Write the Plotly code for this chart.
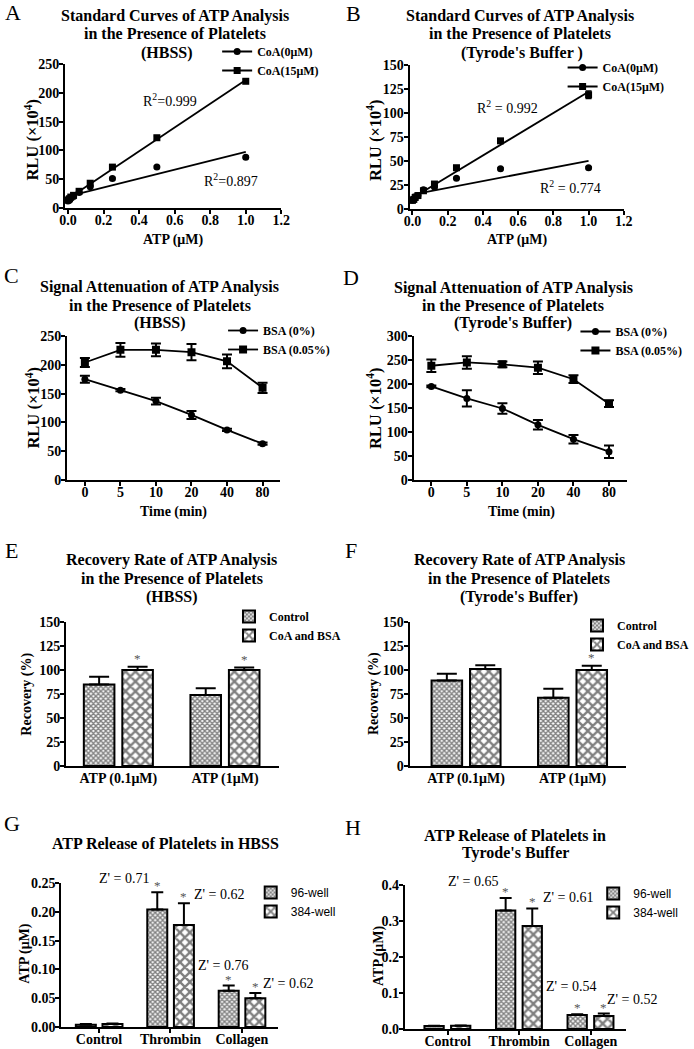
import numpy as np
import plotly.graph_objects as go

W, H = 694, 1049

# ---------------- data ----------------
atp_conc = [0, 0.0078, 0.0156, 0.03125, 0.0625, 0.125, 0.25, 0.5, 1.0]
a_coa0 = [12, 14, 17, 20, 27, 37, 51, 71, 88]
a_coa0_err = [1, 1, 1, 1, 1, 1, 2, 2, 2]
a_coa15 = [14, 16, 19, 22, 29, 43, 71, 122, 220]
a_coa15_err = [1, 1, 1, 1, 2, 2, 3, 3, 3]
b_coa0 = [9, 10, 12, 14, 20, 23, 32, 42, 43]
b_coa0_err = [1, 1, 1, 1, 1, 1, 1, 1, 1]
b_coa15 = [9, 10, 12, 14, 19, 26, 43, 71, 119]
b_coa15_err = [1, 1, 1, 1, 1, 2, 2, 2, 4]
r2_labels_a = ["R<sup>2</sup>=0.897", "R<sup>2</sup>=0.999"]
r2_labels_b = ["R<sup>2</sup> = 0.774", "R<sup>2</sup> = 0.992"]

time_labels = ["0", "5", "10", "20", "40", "80"]
c_bsa0 = [175, 156, 137, 113, 87, 63]
c_bsa0_err = [6, 2, 6, 7, 2, 2]
c_bsa005 = [204, 226, 226, 222, 206, 160]
c_bsa005_err = [8, 12, 11, 14, 12, 9]
d_bsa0 = [195, 170, 149, 115, 85, 59]
d_bsa0_err = [2, 17, 11, 10, 9, 13]
d_bsa005 = [238, 245, 241, 234, 210, 159]
d_bsa005_err = [13, 13, 6, 13, 8, 7]

rec_groups = ["ATP (0.1\u03bcM)", "ATP (1\u03bcM)"]
e_control = [85, 74]
e_control_err = [8, 7]
e_coabsa = [100, 100]
e_coabsa_err = [3.5, 2.5]
e_stars_control = [False, False]
e_stars_coabsa = [True, True]
f_control = [89, 71]
f_control_err = [7, 9.5]
f_coabsa = [101, 100]
f_coabsa_err = [4, 4.5]
f_stars_control = [False, False]
f_stars_coabsa = [False, True]

rel_groups = ["Control", "Thrombin", "Collagen"]
g_96 = [0.004, 0.204, 0.063]
g_96_err = [0.001, 0.030, 0.009]
g_384 = [0.005, 0.177, 0.050]
g_384_err = [0.001, 0.038, 0.009]
g_stars = [False, True, True]
g_zlabels = ["Z' = 0.71", "Z' = 0.62", "Z' = 0.76", "Z' = 0.62"]
h_96 = [0.008, 0.329, 0.039]
h_96_err = [0.001, 0.035, 0.002]
h_384 = [0.009, 0.286, 0.036]
h_384_err = [0.001, 0.049, 0.007]
h_stars = [False, True, True]
h_zlabels = ["Z' = 0.65", "Z' = 0.61", "Z' = 0.54", "Z' = 0.52"]

# ---------------- helpers ----------------
SERIF = "Liberation Serif, Times New Roman, serif"
SANS = "Liberation Sans, Arial, sans-serif"


def px(x):
    return x / W


def py(y):
    return 1 - y / H


fig = go.Figure()
annotations = []


def add_text(text, x, y, size=14, bold=False, family=SERIF, color="black",
             xanchor="center", yanchor="middle", angle=0):
    annotations.append(dict(text=text, x=px(x), y=py(y), xref="paper", yref="paper",
                            showarrow=False, xanchor=xanchor, yanchor=yanchor,
                            textangle=angle,
                            font=dict(family=family, size=size, color=color,
                                      weight="bold" if bold else "normal")))


axis_common = dict(showline=True, linecolor="black", linewidth=2, ticks="outside",
                   ticklen=4, tickwidth=2, tickcolor="black", showgrid=False,
                   zeroline=False, automargin=False,
                   tickfont=dict(family=SERIF, size=14, color="black", weight="bold"))

layout_axes = {}


def set_axes(i, xdom_px, ydom_px, xrange, yrange, xextra=None, yextra=None):
    xk = "xaxis" if i == 1 else f"xaxis{i}"
    yk = "yaxis" if i == 1 else f"yaxis{i}"
    xa = dict(axis_common)
    xa.update(domain=[px(xdom_px[0]), px(xdom_px[1])], range=xrange,
              anchor=f"y{'' if i == 1 else i}", ticklabelstandoff=-6)
    ya = dict(axis_common)
    ya.update(domain=[py(ydom_px[1]), py(ydom_px[0])], range=yrange,
              anchor=f"x{'' if i == 1 else i}", ticklabelstandoff=-3)
    if xextra:
        xa.update(xextra)
    if yextra:
        ya.update(yextra)
    layout_axes[xk] = xa
    layout_axes[yk] = ya


legend_font = dict(family=SERIF, size=12, color="black", weight="bold")
legends = {}


def make_legend(key, x_px, y_px, font=legend_font):
    legends[key] = dict(x=px(x_px), y=py(y_px), xanchor="left", yanchor="top",
                        bgcolor="rgba(0,0,0,0)", font=font, tracegroupgap=0)


# ---------------- A & B : standard curves ----------------
def std_curve(i, yv0, e0, yv15, e15, legkey, r2txt, r2pos):
    xa = f"x{'' if i == 1 else i}"
    ya = f"y{'' if i == 1 else i}"
    for yv, ee, sym, lab, rpos, rt in [(yv0, e0, "circle", "CoA(0\u03bcM)", r2pos[0], r2txt[0]),
                                       (yv15, e15, "square", "CoA(15\u03bcM)", r2pos[1], r2txt[1])]:
        fig.add_trace(go.Scatter(x=atp_conc, y=yv, mode="markers", xaxis=xa, yaxis=ya,
                                 marker=dict(symbol=sym, size=7, color="black"),
                                 error_y=dict(type="data", array=ee, color="black", thickness=1.5, width=3),
                                 showlegend=False, cliponaxis=False))
        slope, icpt = np.polyfit(atp_conc, yv, 1)
        xs = np.array([min(atp_conc), max(atp_conc)])
        fig.add_trace(go.Scatter(x=xs, y=icpt + slope * xs, mode="lines", xaxis=xa, yaxis=ya,
                                 line=dict(color="black", width=1.8), showlegend=False))
        fig.add_trace(go.Scatter(x=[None], y=[None], mode="lines+markers", xaxis=xa, yaxis=ya,
                                 marker=dict(symbol=sym, size=7, color="black"),
                                 line=dict(color="black", width=2), name=lab, legend=legkey))
        add_text(rt, rpos[0], rpos[1], size=14)


set_axes(1, (66, 285), (64, 208), [-0.016, 1.2], [0, 250],
         xextra=dict(tickvals=[0, 0.2, 0.4, 0.6, 0.8, 1.0, 1.2], tickformat=".1f"),
         yextra=dict(tickvals=[0, 50, 100, 150, 200, 250]))
std_curve(1, a_coa0, a_coa0_err, a_coa15, a_coa15_err, "legend", r2_labels_a,
          [(234, 180), (172, 100)])
make_legend("legend", 220, 37)

set_axes(2, (415, 632), (65, 209), [-0.016, 1.2], [0, 150],
         xextra=dict(tickvals=[0, 0.2, 0.4, 0.6, 0.8, 1.0, 1.2], tickformat=".1f"),
         yextra=dict(tickvals=[0, 25, 50, 75, 100, 125, 150]))
std_curve(2, b_coa0, b_coa0_err, b_coa15, b_coa15_err, "legend2", r2_labels_b,
          [(578, 187), (514, 107)])
make_legend("legend2", 570, 53)


# ---------------- C & D : signal attenuation ----------------
def atten(i, y0, e0, y5, e5, legkey):
    xa = f"x{'' if i == 1 else i}"
    ya = f"y{'' if i == 1 else i}"
    xi = list(range(len(time_labels)))
    for yv, ee, sym, lab, sz in [(y0, e0, "circle", "BSA (0%)", 7), (y5, e5, "square", "BSA (0.05%)", 8)]:
        fig.add_trace(go.Scatter(x=xi, y=yv, mode="lines+markers", xaxis=xa, yaxis=ya,
                                 marker=dict(symbol=sym, size=sz, color="black"),
                                 line=dict(color="black", width=1.8),
                                 error_y=dict(type="data", array=ee, color="black", thickness=2, width=5),
                                 name=lab, legend=legkey))


set_axes(3, (68, 284), (336, 480), [-0.5, 5.5], [0, 250],
         xextra=dict(tickvals=list(range(6)), ticktext=time_labels),
         yextra=dict(tickvals=[0, 50, 100, 150, 200, 250]))
atten(3, c_bsa0, c_bsa0_err, c_bsa005, c_bsa005_err, "legend3")
make_legend("legend3", 226, 316)

set_axes(4, (419, 635), (336, 480), [-0.5, 5.5], [0, 300],
         xextra=dict(tickvals=list(range(6)), ticktext=time_labels),
         yextra=dict(tickvals=[0, 50, 100, 150, 200, 250, 300]))
atten(4, d_bsa0, d_bsa0_err, d_bsa005, d_bsa005_err, "legend4")
make_legend("legend4", 583, 317)

# ---------------- bar helpers ----------------
PAT_A = dict(shape="x", size=3.5, solidity=0.65, fgcolor="black", bgcolor="white")
PAT_B = dict(shape="x", size=7, solidity=0.55, fgcolor="black", bgcolor="white")


def bars(i, cats, series, width, offsets, capw, legkey, star_y_shift):
    xa = f"x{'' if i == 1 else i}"
    ya = f"y{'' if i == 1 else i}"
    xi = list(range(len(cats)))
    for (vals, errs, stars, name, pat), off in zip(series, offsets):
        fig.add_trace(go.Bar(x=xi, y=vals, width=width, offset=off, xaxis=xa, yaxis=ya,
                             marker=dict(color="white", pattern=pat,
                                         line=dict(color="black", width=2)),
                             error_y=dict(type="data", array=errs, arrayminus=[0] * len(errs),
                                          symmetric=False, color="black", thickness=2, width=capw),
                             name=name, legend=legkey))
        for k, s in enumerate(stars):
            if s:
                annotations.append(dict(text="*", x=k + off + width / 2, y=vals[k] + errs[k],
                                        xref=xa, yref=ya, showarrow=False, yanchor="bottom",
                                        yshift=star_y_shift,
                                        font=dict(family=SERIF, size=13, color="#555555")))


# ---------------- E & F : recovery ----------------
set_axes(5, (67, 283), (622, 766), [-0.49, 1.51], [0, 150],
         xextra=dict(tickvals=[0, 1], ticktext=rec_groups, ticks="", ticklabelstandoff=-2),
         yextra=dict(tickvals=[0, 25, 50, 75, 100, 125, 150]))
bars(5, rec_groups,
     [(e_control, e_control_err, e_stars_control, "Control", PAT_A),
      (e_coabsa, e_coabsa_err, e_stars_coabsa, "CoA and BSA", PAT_B)],
     0.287, [-0.324, 0.037], 10, "legend5", -1)
make_legend("legend5", 232, 602)

set_axes(6, (415, 634), (622, 766), [-0.53, 1.5], [0, 150],
         xextra=dict(tickvals=[0, 1], ticktext=rec_groups, ticks="", ticklabelstandoff=-2),
         yextra=dict(tickvals=[0, 25, 50, 75, 100, 125, 150]))
bars(6, rec_groups,
     [(f_control, f_control_err, f_stars_control, "Control", PAT_A),
      (f_coabsa, f_coabsa_err, f_stars_coabsa, "CoA and BSA", PAT_B)],
     0.287, [-0.324, 0.037], 10, "legend6", -1)
make_legend("legend6", 585, 611)

# ---------------- G & H : ATP release ----------------
sans_leg = dict(family=SANS, size=12, color="black")
set_axes(7, (62, 282), (883, 1027), [-0.53, 2.51], [0, 0.25],
         xextra=dict(tickvals=[0, 1, 2], ticktext=rel_groups),
         yextra=dict(tickvals=[0, 0.05, 0.10, 0.15, 0.20, 0.25], tickformat=".2f"))
bars(7, rel_groups,
     [(g_96, g_96_err, g_stars, "96-well", PAT_A),
      (g_384, g_384_err, g_stars, "384-well", PAT_B)],
     0.28, [-0.325, 0.048], 6, "legend7", -3)
make_legend("legend7", 254, 878, font=sans_leg)

set_axes(8, (410, 634), (885, 1029), [-0.6, 2.49], [0, 0.4],
         xextra=dict(tickvals=[0, 1, 2], ticktext=rel_groups),
         yextra=dict(tickvals=[0, 0.1, 0.2, 0.3, 0.4], tickformat=".1f"))
bars(8, rel_groups,
     [(h_96, h_96_err, h_stars, "96-well", PAT_A),
      (h_384, h_384_err, h_stars, "384-well", PAT_B)],
     0.27, [-0.324, 0.048], 6, "legend8", -3)
make_legend("legend8", 601, 879, font=sans_leg)

# Z' labels
for t, (x, y) in zip(g_zlabels, [(126, 879), (222, 894), (226, 965), (292, 983)]):
    add_text(t, x, y, size=14)
for t, (x, y) in zip(h_zlabels, [(479, 881), (575, 897), (579, 986), (640, 999)]):
    add_text(t, x, y, size=14)

# ---------------- axis titles ----------------
RLU = "RLU (\u00d710<sup>4</sup>)"
for t, x, y, sz in [(RLU, 33, 140, 16.5), (RLU, 380, 140, 16.5), (RLU, 33, 408, 16.5),
                    (RLU, 379, 408, 16.5), ("Recovery (%)", 27, 694, 14),
                    ("Recovery (%)", 379, 694, 14), ("ATP (\u03bcM)", 25, 953, 14),
                    ("ATP (\u03bcM)", 384, 956, 14)]:
    add_text(t, x, y, size=sz, bold=True, angle=-90)
for t, x, y in [("ATP (\u03bcM)", 176, 240), ("ATP (\u03bcM)", 524, 240),
                ("Time (min)", 176, 512), ("Time (min)", 528, 512)]:
    add_text(t, x, y, size=14, bold=True)

# ---------------- titles & panel letters ----------------
titles = [
    (["Standard Curves of ATP Analysis", "in the Presence of Platelets", "(HBSS)"],
     [177, 177, 169], [16, 34, 53]),
    (["Standard Curves of ATP Analysis", "in the Presence of Platelets", "(Tyrode's Buffer )"],
     [527, 527, 529], [16, 34, 53]),
    (["Signal Attenuation of ATP Analysis", "in the Presence of Platelets", "(HBSS)"],
     [162, 162, 162], [287, 305, 323]),
    (["Signal Attenuation of ATP Analysis", "in the Presence of Platelets", "(Tyrode's Buffer)"],
     [520, 520, 520], [288, 306, 323]),
    (["Recovery Rate of ATP Analysis", "in the Presence of Platelets", "(HBSS)"],
     [174, 174, 174], [560, 578, 597]),
    (["Recovery Rate of ATP Analysis", "in the Presence of Platelets", "(Tyrode's Buffer)"],
     [526, 526, 526], [560, 578, 597]),
    (["ATP Release of Platelets in HBSS"], [168], [843]),
    (["ATP Release of Platelets in", "Tyrode's Buffer"], [522, 522], [835, 853]),
]
for lines, xs, ys in titles:
    for t, x, y in zip(lines, xs, ys):
        add_text(t, x, y, size=16, bold=True)

for letter, x, y in [("A", 13, 13), ("B", 358, 14), ("C", 12, 275), ("D", 356, 277),
                     ("E", 12, 550), ("F", 356, 550), ("G", 12, 823), ("H", 358, 827)]:
    add_text(letter, x, y, size=22)

fig.update_layout(width=W, height=H, margin=dict(l=0, r=0, t=0, b=0),
                  paper_bgcolor="white", plot_bgcolor="white",
                  barmode="group", annotations=annotations, showlegend=True,
                  **layout_axes, **legends)

fig.write_html("out.html", config={"displayModeBar": False},
               post_script="document.body.style.margin='0px';")
